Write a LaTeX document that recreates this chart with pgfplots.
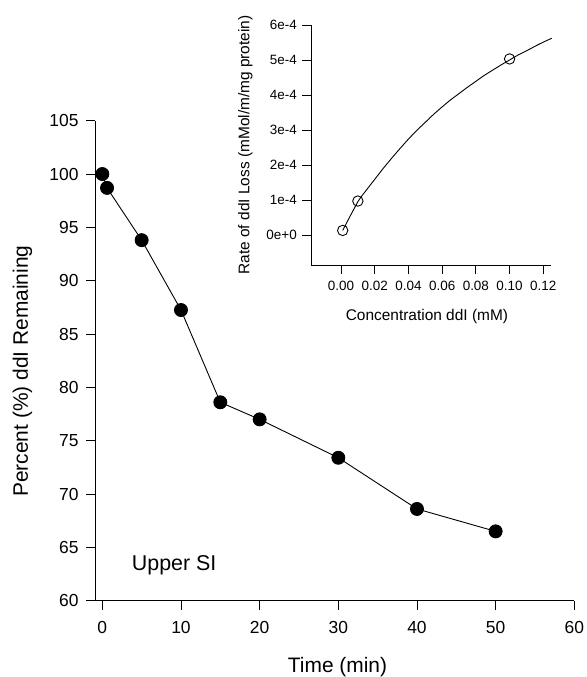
\documentclass[border=0pt]{standalone}
\usepackage{pgfplots}
\pgfplotsset{compat=1.18}
\usepackage{fontspec}
\setmainfont{Liberation Sans}
\begin{document}
\begin{tikzpicture}[x=1bp,y=1bp]
\useasboundingbox (0,0) rectangle (587,677);
% main axis
\begin{axis}[
  at={(95bp,76.3bp)}, anchor=south west,
  scale only axis, width=479.3bp, height=480bp,
  xmin=-0.93, xmax=60, ymin=60, ymax=105,
  axis lines*=left,
  axis line style={line width=0.9bp},
  xtick={0,10,...,60}, ytick={60,65,...,105},
  tick align=outside, major tick length=9bp,
  tick style={black, line width=0.9bp},
  /pgf/number format/assume math mode=true,
  ticklabel style={font=\fontsize{17.5}{20}\selectfont},
  xticklabel style={yshift=-8bp},
  yticklabel style={xshift=-4bp},
  xlabel={Time (min)},
  ylabel={Percent (\%) ddI Remaining},
  label style={font=\fontsize{21}{25}\selectfont},
  xlabel style={at={(axis description cs:0.506,-0.1506)}, anchor=base},
  ylabel style={at={(axis description cs:-0.1513,0.478)}, anchor=center},
  clip=false,
]
\addplot[black, line width=0.9bp, mark=*, mark size=6.5bp, mark options={fill=black}] coordinates {
(0,100) (0.6,98.7) (5,93.8) (10,87.25) (15,78.6) (20,77.0) (30,73.4) (40,68.6) (50,66.5)
};
\node[anchor=base west, inner sep=0, font=\fontsize{21.5}{25}\selectfont] at (axis cs:3.74,62.8) {Upper SI};
\end{axis}
% inset axis
\begin{axis}[
  at={(311.3bp,412bp)}, anchor=south west,
  scale only axis, width=239.4bp, height=240bp,
  xmin=-0.01762, xmax=0.1244, ymin=-0.857, ymax=6,
  axis lines*=left,
  axis line style={line width=0.9bp},
  xtick={0,0.02,0.04,0.06,0.08,0.10,0.12},
  xticklabels={0.00,0.02,0.04,0.06,0.08,0.10,0.12},
  ytick={0,1,2,3,4,5,6},
  yticklabels={0e+0,1e-4,2e-4,3e-4,4e-4,5e-4,6e-4},
  tick align=outside, major tick length=9bp,
  tick style={black, line width=0.9bp},
  ticklabel style={font=\fontsize{13.5}{15}\selectfont},
  xticklabel style={yshift=-4bp},
  yticklabel style={xshift=-2bp},
  xlabel={Concentration ddI (mM)},
  ylabel={Rate of ddI Loss (mMol/m/mg protein)},
  label style={font=\fontsize{15.5}{18}\selectfont},
  xlabel style={at={(axis description cs:0.483,-0.233)}, anchor=base},
  ylabel style={at={(axis description cs:-0.275,0.5)}, anchor=center},
  clip=false,
]
\addplot[black, line width=0.9bp, smooth, tension=0.4] coordinates {
(0.001,0.13) (0.01,0.95) (0.015,1.28) (0.02,1.59) (0.025,1.9) (0.03,2.19) (0.035,2.47)
(0.04,2.74) (0.045,2.99) (0.05,3.22) (0.055,3.45) (0.06,3.66) (0.065,3.86) (0.07,4.04)
(0.075,4.22) (0.08,4.39) (0.085,4.56) (0.09,4.71) (0.095,4.86) (0.10,5.0) (0.105,5.14)
(0.11,5.26) (0.115,5.39) (0.12,5.51) (0.125,5.62)
};
\addplot[black, only marks, mark=o, mark size=5.2bp, mark options={line width=0.9bp}] coordinates {
(0.001,0.13) (0.01,0.97) (0.10,5.03)
};
\end{axis}
\end{tikzpicture}
\end{document}
